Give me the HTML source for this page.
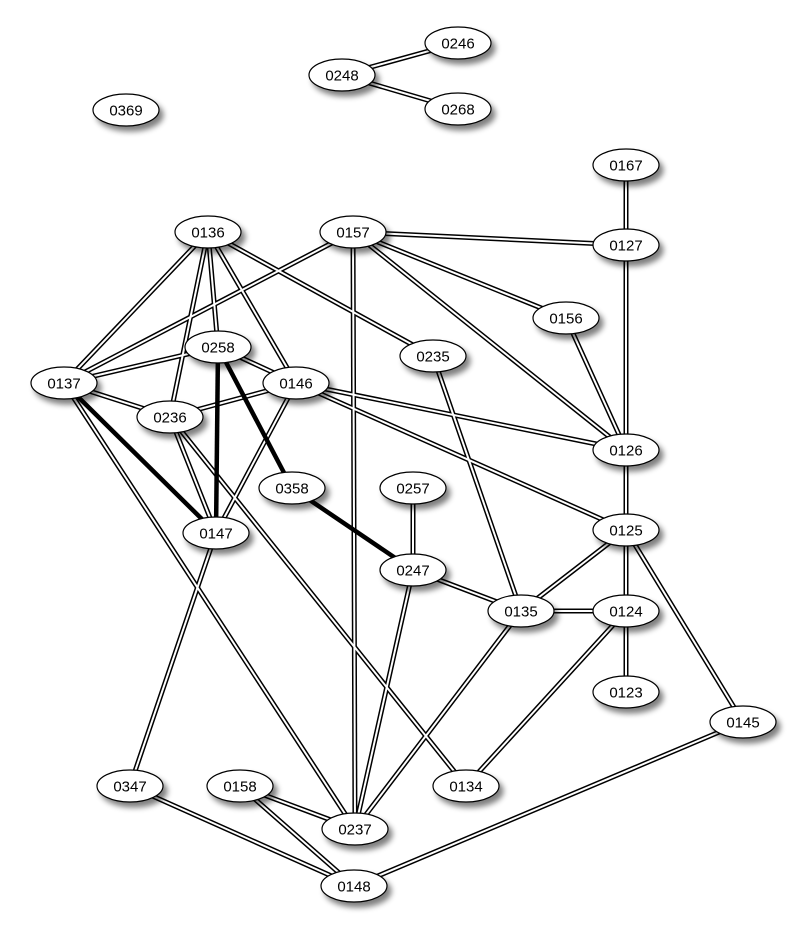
<!DOCTYPE html>
<html><head><style>body{margin:0;background:#fff}svg{display:block}</style></head><body>
<svg width="800" height="943" xmlns="http://www.w3.org/2000/svg">
<defs><filter id="sh" x="-50%" y="-50%" width="200%" height="200%"><feGaussianBlur in="SourceAlpha" stdDeviation="3"/><feOffset dx="4" dy="5"/><feComponentTransfer><feFuncA type="linear" slope="0.5"/></feComponentTransfer><feMerge><feMergeNode/><feMergeNode in="SourceGraphic"/></feMerge></filter></defs>
<g id="edges"></g><g id="nodes"></g>
<script>
var N={"0246":[458,43],"0248":[342,75],"0268":[458,109],"0369":[126,110],"0167":[626,165],"0127":[626,245],"0136":[208,232],"0157":[353,232],"0156":[566,318],"0258":[218,347],"0235":[433,356],"0137":[64,383],"0146":[296,383],"0236":[170,417],"0126":[626,450],"0358":[292,488],"0257":[413,488],"0147":[216,533],"0125":[626,530],"0247":[413,570],"0135":[521,611],"0124":[626,611],"0123":[626,692],"0145":[743,722],"0347":[130,786],"0158":[240,786],"0134":[466,786],"0237":[355,829],"0148":[354,886]};
var E="0248-0246 0248-0268 0167-0127 0136-0137 0136-0258 0136-0236 0136-0146 0136-0235 0157-0137 0157-0237 0157-0127 0157-0156 0157-0126 0127-0126 0156-0126 0258-0137 0258-0146 0137-0236 0137-0237 0146-0236 0146-0147 0146-0126 0146-0125 0236-0147 0236-0134 0235-0135 0257-0247 0247-0135 0247-0237 0147-0347 0126-0125 0125-0135 0125-0124 0125-0145 0135-0124 0135-0237 0124-0123 0124-0134 0145-0148 0347-0148 0158-0237 0158-0148".split(" ");
var T="0258-0147 0258-0358 0137-0147 0358-0247".split(" ");
var ns="http://www.w3.org/2000/svg",eg=document.getElementById("edges"),ng=document.getElementById("nodes");
function ln(a,b,w,c){var l=document.createElementNS(ns,"line"),p=N[a],q=N[b];l.setAttribute("x1",p[0]);l.setAttribute("y1",p[1]);l.setAttribute("x2",q[0]);l.setAttribute("y2",q[1]);l.setAttribute("stroke",c);l.setAttribute("stroke-width",w);eg.appendChild(l);}
E.forEach(function(e){var s=e.split("-");ln(s[0],s[1],5,"#000");});
E.forEach(function(e){var s=e.split("-");ln(s[0],s[1],2,"#fff");});
T.forEach(function(e){var s=e.split("-");ln(s[0],s[1],4.5,"#000");});
for(var k in N){var p=N[k];var el=document.createElementNS(ns,"ellipse");el.setAttribute("cx",p[0]);el.setAttribute("cy",p[1]);el.setAttribute("rx",33);el.setAttribute("ry",16);el.setAttribute("fill","#fff");el.setAttribute("stroke","#000");el.setAttribute("stroke-width",1.2);el.setAttribute("filter","url(#sh)");ng.appendChild(el);
var t=document.createElementNS(ns,"text");t.setAttribute("x",p[0]);t.setAttribute("y",p[1]+5.5);t.setAttribute("text-anchor","middle");t.setAttribute("font-family","Liberation Sans, sans-serif");t.setAttribute("font-size","15");t.textContent=k;ng.appendChild(t);}
</script>
</svg>
</body></html>
